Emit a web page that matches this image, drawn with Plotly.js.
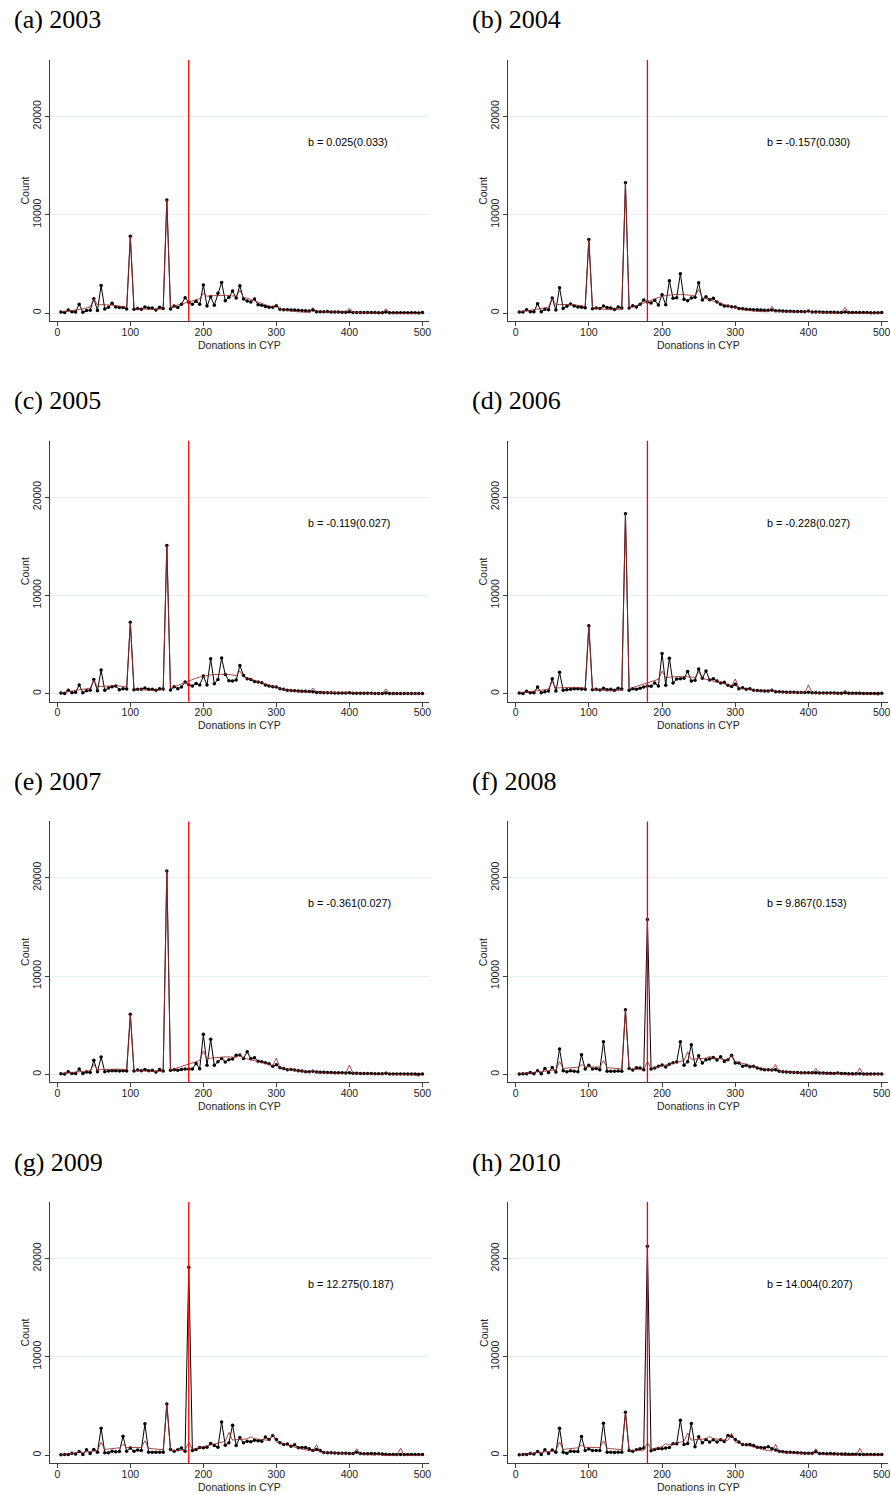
<!DOCTYPE html>
<html>
<head>
<meta charset="utf-8">
<script src="https://cdn.plot.ly/plotly-3.0.1.min.js"></script>
<style>html,body{margin:0;padding:0;background:#fff}#chart{width:891px;height:1495px}</style>
</head>
<body>
<div id="chart"></div>
<script>
// Donation amounts (CYP), bins of 5
const donations = [5,10,15,20,25,30,35,40,45,50,55,60,65,70,75,80,85,90,95,100,
105,110,115,120,125,130,135,140,145,150,155,160,165,170,175,180,185,190,195,200,
205,210,215,220,225,230,235,240,245,250,255,260,265,270,275,280,285,290,295,300,
305,310,315,320,325,330,335,340,345,350,355,360,365,370,375,380,385,390,395,400,
405,410,415,420,425,430,435,440,445,450,455,460,465,470,475,480,485,490,495,500];

const panelTitles = ["(a) 2003","(b) 2004","(c) 2005","(d) 2006","(e) 2007","(f) 2008","(g) 2009","(h) 2010"];
const bLabels = ["b = 0.025(0.033)","b = -0.157(0.030)","b = -0.119(0.027)","b = -0.228(0.027)",
                 "b = -0.361(0.027)","b = 9.867(0.153)","b = 12.275(0.187)","b = 14.004(0.207)"];
const threshold = 180;
const xTicks = [0,100,200,300,400,500];
const xTickText = ["0","100","200","300","400","500"];
const yTicks = [0,10000,20000];
const yTickText = ["0","10000","20000"];

// Observed counts
const count2003 = [100,50,300,130,100,900,70,250,270,1450,
250,2800,400,580,1000,600,550,550,400,7800,
380,470,380,600,500,500,300,580,470,11500,
400,700,550,900,1550,1100,900,1200,880,2850,
700,1650,780,2000,3100,1250,1600,2240,1520,2780,
1420,1220,1120,1420,850,780,650,580,580,750,
370,340,320,300,300,270,250,230,200,300,
130,130,120,150,110,100,90,80,70,120,
60,60,50,50,40,40,40,30,30,100,
30,30,30,30,20,20,20,20,10,60];
const count2004 = [100,100,340,130,130,950,130,370,340,1530,
300,2580,470,680,920,710,610,580,540,7490,
440,510,450,700,550,500,350,600,500,13250,
500,750,610,880,1320,1120,1020,1290,810,1860,
850,3290,1490,1560,4000,1390,1250,1530,1590,3080,
1320,1660,1360,1490,1120,880,710,710,640,610,
470,440,370,350,330,320,300,280,270,300,
240,220,200,190,180,160,150,140,130,200,
110,100,90,80,80,70,70,60,60,100,
50,50,50,40,40,40,30,30,30,50];
const count2005 = [70,30,340,100,140,880,100,300,340,1450,
300,2400,340,580,710,780,400,510,470,7280,
400,440,440,580,440,440,340,510,470,15090,
370,710,510,680,1180,910,780,1050,880,1790,
880,3550,1020,1450,3620,1960,1320,1290,1390,2880,
1860,1520,1450,1250,1180,1120,880,780,710,680,
510,440,340,320,300,280,260,240,220,200,
120,110,100,100,90,80,80,70,60,100,
50,50,50,40,40,40,30,30,30,60,
30,30,20,20,20,20,20,20,20,20];
const count2006 = [70,30,240,100,100,680,100,200,270,1530,
270,2180,340,410,440,510,510,480,440,6920,
410,440,380,550,410,440,340,550,480,18310,
340,510,440,550,680,780,750,1090,780,4090,
850,3610,1090,1500,1530,1570,2250,1300,1360,2520,
1570,2320,1400,1530,1300,1090,1160,850,720,950,
510,610,440,510,340,330,300,280,270,340,
200,190,170,160,150,140,130,120,110,150,
100,90,80,80,70,60,60,50,50,100,
50,40,40,40,30,30,30,30,30,50];
const count2007 = [70,30,270,100,100,540,100,240,200,1430,
270,1770,270,340,370,370,340,370,340,6120,
340,440,370,510,370,410,240,510,340,20700,
410,480,410,510,540,540,540,1120,580,4080,
920,3570,920,1290,1630,1260,1500,1560,1940,1970,
1630,2310,1600,1700,1330,1290,1190,1090,820,990,
680,610,480,510,440,370,340,270,270,310,
240,220,210,200,190,180,170,160,150,170,
120,110,100,90,80,80,70,60,60,120,
50,50,40,40,40,30,30,30,20,50];
const count2008 = [30,70,70,200,70,370,70,610,200,710,
240,2580,370,270,370,310,270,2000,540,920,
540,610,480,3330,310,310,310,340,310,6590,
610,440,680,650,480,15760,540,650,820,950,
750,1020,1190,1260,3330,920,1290,3020,920,1900,
1150,1490,1560,1730,1460,1800,1320,1490,1940,1150,
1150,820,920,780,820,650,540,480,480,440,
480,310,270,240,220,200,190,180,170,170,
160,170,140,130,120,110,100,130,90,80,
70,70,60,60,50,50,40,40,30,30];
const count2009 = [30,70,70,200,100,370,70,540,170,570,
300,2740,240,240,400,340,370,1930,400,710,
400,510,470,3180,300,300,300,300,300,5200,
570,400,540,710,400,19100,470,570,780,740,
810,1180,980,810,3380,1010,1250,3040,980,1790,
1250,1420,1350,1520,1450,1420,1830,1590,1990,1590,
1250,1080,1120,910,1050,740,780,780,640,470,
570,470,270,240,230,220,200,190,180,170,
160,300,150,135,140,170,130,135,110,80,
70,70,70,70,60,60,60,50,50,50];
const count2010 = [30,70,70,170,100,370,70,540,170,510,
300,2740,300,200,400,370,370,1890,470,610,
470,470,470,3250,300,300,270,300,300,4360,
470,400,540,640,710,21260,440,570,680,640,
710,780,1150,1150,3550,1080,1180,3210,850,1860,
1250,1590,1320,1550,1320,1550,1390,1990,1930,1590,
1320,1080,1050,1080,980,810,780,740,850,640,
510,400,340,300,280,260,240,220,200,200,
180,340,170,150,140,170,130,120,110,100,
90,80,80,70,70,60,60,50,50,50];

// Counterfactual (fitted) counts
const fit2003 = [120,150,200,250,300,350,420,500,600,1450,
800,850,850,830,800,750,700,650,600,7800,
450,420,400,380,370,360,370,390,420,11500,
600,700,800,900,1000,1100,1200,1300,1450,2000,
1700,1750,1780,1800,1800,1800,1780,1750,1700,2300,
1600,1500,1380,1250,1100,950,820,700,580,900,
380,300,240,190,150,120,100,90,90,550,
100,110,120,120,120,110,100,90,80,500,
60,50,40,30,20,10,0,-10,-20,450,
-30,-30,-30,-30,-30,-30,-30,-40,-60,20];
const fit2004 = [100,150,200,260,320,380,450,520,600,1550,
850,870,880,880,870,840,800,740,680,7490,
550,480,420,380,350,330,330,350,380,13250,
500,620,760,900,1050,1200,1350,1480,1600,1700,
1780,1840,1880,1900,1900,1880,1850,1800,1720,2400,
1550,1450,1340,1220,1100,970,850,730,620,600,
420,340,280,230,190,160,140,130,130,680,
130,130,130,130,130,120,110,100,90,250,
70,60,50,40,30,20,10,0,-10,580,
-20,-20,-20,-20,-20,-20,-20,-20,-20,0];
const fit2005 = [100,150,190,240,290,350,410,480,560,1350,
700,750,780,800,810,800,780,740,690,7280,
500,450,400,370,350,340,350,370,400,15090,
550,700,860,1020,1180,1320,1460,1580,1690,1780,
1850,1910,1950,1970,1980,1970,1950,1910,1850,2300,
1700,1600,1480,1360,1230,1100,970,850,730,750,
520,430,350,290,240,200,170,160,150,580,
150,150,150,140,140,130,120,110,100,200,
80,70,60,50,40,30,20,10,0,480,
-10,-10,-10,-10,-10,-10,-10,-10,-10,0];
const fit2006 = [100,130,170,210,260,310,360,410,470,1250,
560,600,630,650,660,650,630,600,560,6920,
430,390,350,320,300,290,290,300,330,18310,
500,620,750,880,1010,1140,1260,1370,1470,2300,
1620,1680,1720,1750,1760,1760,1740,1710,1660,2250,
1540,1470,1390,1300,1200,1100,1000,890,790,1500,
600,520,450,380,330,280,240,210,190,450,
160,150,140,140,130,120,110,100,90,900,
70,60,50,40,30,20,10,0,-10,350,
-20,-20,-20,-10,0,0,0,-50,-150,100];
const fit2007 = [80,110,140,180,220,260,300,340,380,1000,
450,480,510,530,540,540,530,510,480,6120,
400,370,340,320,300,290,290,300,320,20700,
450,560,680,800,930,1060,1180,1300,1410,2400,
1580,1650,1700,1740,1770,1780,1780,1770,1740,2050,
1650,1580,1500,1410,1310,1210,1110,1000,900,1650,
700,610,520,440,380,320,270,240,210,400,
170,160,150,140,140,130,120,110,100,950,
80,70,60,50,40,30,20,10,10,250,
0,0,0,0,0,0,-10,-50,-200,150];
const fit2008 = [50,80,110,150,190,350,270,320,370,420,
460,1300,600,640,680,710,740,1000,770,770,
760,750,730,1400,680,650,620,590,560,6590,
520,510,510,520,540,1300,620,680,760,850,
950,1060,1160,1250,1330,1400,2300,1520,1570,1610,
1640,1660,1850,1660,1640,1600,1550,1480,2000,1310,
1210,1110,1000,900,800,700,610,530,460,400,
1000,300,260,230,200,180,160,150,140,130,
120,600,90,70,50,30,10,100,-20,-30,
-40,-50,-50,650,-50,-40,-30,-20,-10,0];
const fit2009 = [40,70,110,150,190,400,270,320,360,410,
460,1300,570,620,670,710,740,1100,780,790,
790,780,760,1450,700,660,620,580,540,5200,
480,460,460,470,500,1300,600,680,770,860,
960,1060,1160,1250,1330,1400,2300,1520,1570,1600,
1630,1650,1850,1650,1630,1600,1550,1490,2150,1320,
1220,1110,1000,900,800,700,610,530,460,400,
1050,300,260,230,200,180,160,150,140,130,
120,650,90,70,50,30,10,150,-20,-30,
-40,-50,-50,700,-50,-40,-30,-20,-10,0];
const fit2010 = [40,70,110,150,190,400,270,320,360,410,
460,1350,570,620,670,710,740,1050,780,790,
790,780,760,1450,700,660,620,580,540,4360,
480,460,460,470,500,1250,600,680,770,860,
1150,1060,1160,1250,1330,1400,2250,1520,1570,1600,
1630,1650,1900,1650,1630,1600,1550,1490,2200,1320,
1220,1110,1000,900,800,700,610,530,460,400,
1100,300,260,230,200,180,160,150,140,130,
120,650,90,70,50,30,10,150,-20,-30,
-40,-50,-50,700,-50,-40,-30,-20,-10,0];

const counts = [count2003,count2004,count2005,count2006,count2007,count2008,count2009,count2010];
const fits = [fit2003,fit2004,fit2005,fit2006,fit2007,fit2008,fit2009,fit2010];

// ---- layout geometry (pixels) ----
const W = 891, H = 1495;
const colX = [[50,429],[508.3,888.3]];
const rowTop0 = 60, rowStep = 380.7, plotH = 261;
const sans = "Liberation Sans, Arial, Helvetica, sans-serif";
const serif = "Liberation Serif, Times New Roman, serif";
const axisCol = "#3c3c3c";

const traces = [], shapes = [], annotations = [];
const layout = {
  width: W, height: H, margin: {l:0,r:0,t:0,b:0},
  paper_bgcolor: "#fff", plot_bgcolor: "#fff", showlegend: false,
  font: {family: sans, size: 10.5, color: "#222"}
};

for (let i = 0; i < 8; i++) {
  const r = Math.floor(i/2), c = i % 2;
  const top = rowTop0 + rowStep*r, bot = top + plotH;
  const xs = i === 0 ? "" : String(i+1);
  const xa = "x" + xs, ya = "y" + xs;
  layout["xaxis" + xs] = {
    domain: [colX[c][0]/W, colX[c][1]/W], anchor: ya, range: [-10, 509],
    showline: true, linecolor: axisCol, linewidth: 1,
    ticks: "outside", ticklen: 4, tickwidth: 1, tickcolor: axisCol,
    tickmode: "array", tickvals: xTicks, ticktext: xTickText, ticklabelstandoff: -3,
    showgrid: false, zeroline: false,
    tickfont: {family: sans, size: 10.5, color: "#222"}
  };
  layout["yaxis" + xs] = {
    domain: [1 - bot/H, 1 - top/H], anchor: xa, range: [-814, 25740],
    showline: true, linecolor: axisCol, linewidth: 1,
    ticks: "outside", ticklen: 4, tickwidth: 1, tickcolor: axisCol,
    tickmode: "array", tickvals: yTicks, ticktext: yTickText, tickangle: -90,
    showgrid: true, gridcolor: "#e6eff1", gridwidth: 1,
    zeroline: false, tickfont: {family: sans, size: 10.5, color: "#222"}
  };
  traces.push({
    x: donations, y: counts[i], xaxis: xa, yaxis: ya, type: "scatter", mode: "lines+markers",
    line: {color: "#000", width: 1}, marker: {color: "#000", size: 3.5}, hoverinfo: "skip"
  });
  traces.push({
    x: donations, y: fits[i], xaxis: xa, yaxis: ya, type: "scatter", mode: "lines",
    line: {color: "rgba(150,40,40,0.85)", width: 1}, hoverinfo: "skip"
  });
  shapes.push({
    type: "line", xref: xa, yref: ya + " domain", x0: threshold, x1: threshold, y0: 0, y1: 1,
    line: {color: "#ff0000", width: 1.3}, layer: "above"
  });
  annotations.push({
    text: panelTitles[i], xref: "paper", yref: "paper",
    x: (12 + c*458.4)/W, y: 1 - (top - 40)/H, xanchor: "left", yanchor: "middle",
    showarrow: false, font: {family: serif, size: 26, color: "#000"}
  });
  annotations.push({
    text: bLabels[i], xref: xa, yref: ya, x: 340, y: 17400, xanchor: "left", yanchor: "middle",
    showarrow: false, font: {family: sans, size: 10.8, color: "#000"}
  });
  annotations.push({
    text: "Count", xref: "paper", yref: ya + " domain", x: (colX[c][0] - 25)/W, y: 0.5,
    xanchor: "center", yanchor: "middle", textangle: -90,
    showarrow: false, font: {family: sans, size: 10.5, color: "#222"}
  });
  annotations.push({
    text: "Donations in CYP", xref: xa, yref: "paper", x: 250, y: 1 - (bot + 23.5)/H,
    xanchor: "center", yanchor: "middle",
    showarrow: false, font: {family: sans, size: 10.5, color: "#222"}
  });
}
layout.shapes = shapes;
layout.annotations = annotations;
Plotly.newPlot("chart", traces, layout, {staticPlot: true, displayModeBar: false});
</script>
</body>
</html>
